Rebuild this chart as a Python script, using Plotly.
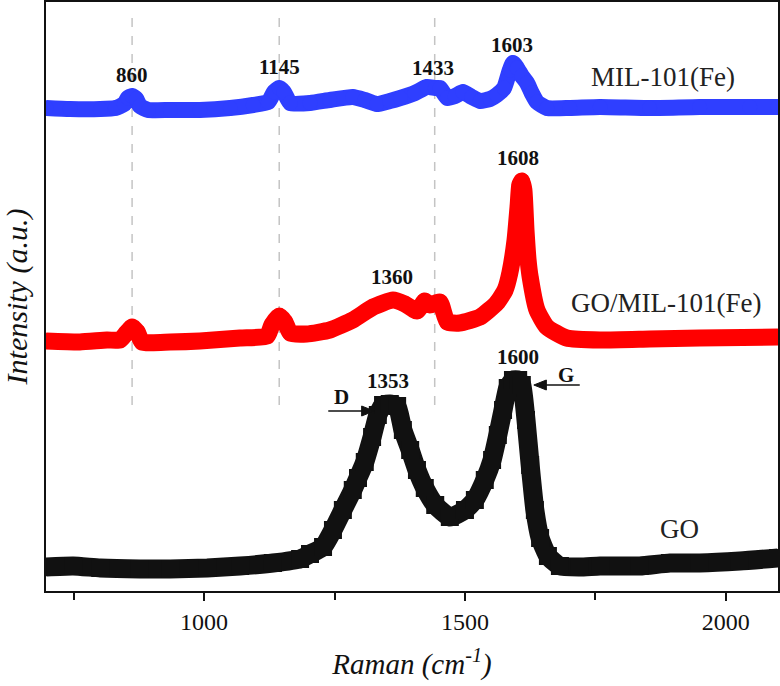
import plotly.graph_objects as go

# Raman shift (cm-1) and stacked intensities (a.u.)
mil_x = [697, 743, 801, 830, 847, 854, 862, 870, 877, 893, 935, 992, 1050, 1094, 1123, 1134, 1144, 1153, 1165,
         1203, 1241, 1285, 1308, 1331, 1356, 1376, 1404, 1427, 1443, 1452, 1466, 1481, 1496, 1513, 1529, 1548,
         1561, 1575, 1586, 1592, 1600, 1609, 1619, 1628, 1638, 1657, 1701, 1759, 1854, 1950, 2046, 2100]
mil_y = [483, 482, 482, 483, 487, 493, 495, 492, 485, 481, 481, 481, 483, 486, 489, 499, 503, 499, 488,
         488, 491, 494, 491, 487, 490, 493, 498, 504, 503, 503, 493, 495, 499, 494, 490, 492,
         496, 503, 521, 528, 523, 515, 508, 498, 489, 483, 483, 484, 483, 484, 484, 484]

gomil_x = [697, 762, 814, 839, 851, 862, 872, 881, 935, 992, 1069, 1121, 1130, 1144, 1155, 1165, 1197, 1241,
           1285, 1324, 1362, 1385, 1408, 1423, 1433, 1452, 1466, 1490, 1529, 1561, 1577, 1586, 1596, 1602,
           1605, 1609, 1613, 1617, 1621, 1625, 1638, 1657, 1695, 1759, 1854, 1950, 2100]
gomil_y = [250, 249, 251, 251, 258, 264, 259, 249, 249, 250, 253, 255, 266, 275, 269, 258, 257, 261,
           271, 284, 291, 287, 280, 290, 286, 289, 269, 268, 274, 288, 301, 318, 351, 386,
           406, 410, 401, 361, 331, 314, 281, 264, 253, 251, 252, 253, 254]

go_x = [697, 749, 801, 877, 935, 1006, 1069, 1132, 1184, 1203, 1228, 1247, 1266, 1285, 1295, 1308, 1322,
        1333, 1343, 1356, 1370, 1381, 1395, 1408, 1423, 1443, 1471, 1500, 1519, 1538, 1552, 1563, 1573,
        1582, 1592, 1602, 1609, 1617, 1625, 1634, 1644, 1659, 1682, 1720, 1759, 1835, 1893, 1950, 2027, 2100]
go_y = [24, 25, 23, 22, 22, 23, 25, 28, 32, 37, 44, 61, 81, 101, 113, 129, 154,
        176, 186, 187, 185, 161, 141, 121, 103, 86, 74, 81, 91, 111, 131, 156, 181,
        203, 211, 211, 206, 171, 126, 81, 53, 35, 25, 24, 25, 25, 28, 28, 30, 33]

ref_lines = [862, 1144, 1442]

peak_labels = ["860", "1145", "1433", "1603", "1360", "1608", "1353", "1600"]
peak_x = [862, 1145, 1439, 1590, 1360, 1602, 1353, 1601]
peak_y = [516, 524, 523, 546, 314, 433, 210, 234]

series_names = ["MIL-101(Fe)", "GO/MIL-101(Fe)", "GO"]
name_x = [1879, 1885, 1912]
name_y = [514, 288, 62]

fig = go.Figure()

for xs, ys, col, sym, sz in [
    (go_x, go_y, "#111111", "square", 19),
    (gomil_x, gomil_y, "#ff0000", "circle", 17),
    (mil_x, mil_y, "#2f3fff", "circle", 16),
]:
    fig.add_trace(go.Scatter(
        x=xs, y=ys, mode="lines+markers",
        line=dict(color=col, width=sz, shape="spline", smoothing=0.5),
        marker=dict(color=col, size=sz - 1, symbol=sym, line=dict(width=0)),
        showlegend=False, hoverinfo="skip"))

for xv in ref_lines:
    fig.add_shape(type="line", xref="x", yref="y", x0=xv, x1=xv, y0=186, y1=579,
                  line=dict(color="#c4c4c4", width=1.5, dash="dash"), layer="below")

for t, xv, yv in zip(peak_labels, peak_x, peak_y):
    fig.add_annotation(x=xv, y=yv, text="<b>" + t + "</b>", showarrow=False,
                       font=dict(family="Liberation Serif", size=21, color="#111111"))

for t, xv, yv in zip(series_names, name_x, name_y):
    fig.add_annotation(x=xv, y=yv, text=t, showarrow=False,
                       font=dict(family="Liberation Serif", size=27, color="#222222"))

# D and G arrows (shaft + head) and letters
arrow_col = "#111111"
fig.add_shape(type="line", xref="x", yref="y", x0=1238, x1=1306, y0=180, y1=180,
              line=dict(color=arrow_col, width=1.5))
fig.add_shape(type="path", xref="x", yref="y", path="M 1326 180 L 1302 185 L 1302 175 Z",
              fillcolor=arrow_col, line=dict(color=arrow_col, width=1))
fig.add_annotation(x=1263, y=194, text="<b>D</b>", showarrow=False,
                   font=dict(family="Liberation Serif", size=21, color="#111111"))
fig.add_shape(type="line", xref="x", yref="y", x0=1654, x1=1720, y0=206, y1=206,
              line=dict(color=arrow_col, width=1.5))
fig.add_shape(type="path", xref="x", yref="y", path="M 1632 206 L 1656 211 L 1656 201 Z",
              fillcolor=arrow_col, line=dict(color=arrow_col, width=1))
fig.add_annotation(x=1693, y=216, text="<b>G</b>", showarrow=False,
                   font=dict(family="Liberation Serif", size=21, color="#111111"))

fig.update_layout(
    width=780, height=686,
    margin=dict(l=46, r=2, t=2, b=95, autoexpand=False),
    paper_bgcolor="white", plot_bgcolor="white",
    font=dict(family="Liberation Serif", color="#111111"),
    xaxis=dict(range=[697, 2100], showgrid=False, zeroline=False, automargin=False,
               showline=True, linecolor="#111111", linewidth=2, mirror=True,
               ticks="outside", ticklen=8, tickwidth=2, tickcolor="#111111",
               tick0=0, dtick=500, tickfont=dict(size=24, family="Liberation Serif"),
               minor=dict(ticks="outside", ticklen=7, tickwidth=2, tickcolor="#111111", dtick=250, tick0=0),
               title=dict(text="<i>Raman (cm<sup>-1</sup>)</i>", font=dict(size=29, family="Liberation Serif"),
                          standoff=20)),
    yaxis=dict(range=[0, 589], showgrid=False, zeroline=False, showticklabels=False, ticks="",
               automargin=False,
               showline=True, linecolor="#111111", linewidth=2, mirror=True,
               title=dict(text="<i>Intensity (a.u.)</i>", font=dict(size=30, family="Liberation Serif"),
                          standoff=9)),
)

fig.write_html("out.html", config={"displayModeBar": False},
               post_script="document.body.style.margin='0';document.body.style.overflow='hidden';")
